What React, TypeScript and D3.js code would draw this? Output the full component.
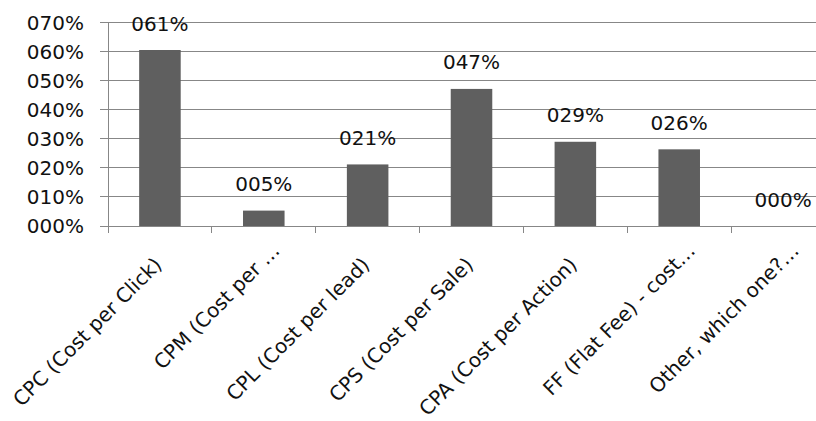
import React from "react";
import * as d3 from "d3";

// Pricing models and share of respondents using each one
const categories: string[] = [
  "CPC (Cost per Click)",
  "CPM (Cost per …",
  "CPL (Cost per lead)",
  "CPS (Cost per Sale)",
  "CPA (Cost per Action)",
  "FF (Flat Fee) - cost…",
  "Other, which one?…",
];
const shares: number[] = [0.606, 0.053, 0.212, 0.472, 0.29, 0.264, 0];
const yTicks: number[] = [0, 0.1, 0.2, 0.3, 0.4, 0.5, 0.6, 0.7];

const WIDTH = 816;
const HEIGHT = 421;
const FONT = "'DejaVu Sans', sans-serif";
const GRID = "#878787";
const BAR = "#5f5f5f";

const pct = (v: number) => d3.format("03d")(Math.round(v * 100)) + "%";

export default function App() {
  const left = 108;
  const right = 835; // last category runs past the visible edge
  const top = 22.7;
  const bottom = 226;

  const x = d3
    .scaleBand<string>()
    .domain(categories)
    .range([left, right])
    .paddingInner(0.6)
    .paddingOuter(0.3);
  const step = x.step();

  const y = d3.scaleLinear().domain([0, 0.7]).range([bottom, top]);

  const boundaries = d3.range(categories.length + 1).map((i) => left + i * step);

  return (
    <svg
      width={WIDTH}
      height={HEIGHT}
      style={{ position: "absolute", left: 0, top: 0, background: "#fff", display: "block" }}
      fontFamily={FONT}
    >
      <rect width={WIDTH} height={HEIGHT} fill="#fff" />

      {/* horizontal gridlines */}
      {yTicks.map((t) => (
        <line
          key={"g" + t}
          x1={left - 8}
          x2={right}
          y1={y(t)}
          y2={y(t)}
          stroke={GRID}
          strokeWidth={1}
          shapeRendering="crispEdges"
        />
      ))}

      {/* value axis */}
      <line x1={left} x2={left} y1={top} y2={bottom} stroke={GRID} shapeRendering="crispEdges" />
      {yTicks.map((t) => (
        <text
          key={"yl" + t}
          x={84}
          y={y(t)}
          dy="0.36em"
          textAnchor="end"
          fontSize={20}
          fill="#111"
        >
          {pct(t)}
        </text>
      ))}

      {/* category tick marks */}
      {boundaries.map((bx, i) => (
        <line
          key={"xt" + i}
          x1={bx}
          x2={bx}
          y1={bottom}
          y2={bottom + 7}
          stroke={GRID}
          shapeRendering="crispEdges"
        />
      ))}

      {/* bars */}
      {categories.map((c, i) => (
        <rect
          key={"b" + c}
          x={x(c)}
          y={y(shares[i])}
          width={x.bandwidth()}
          height={bottom - y(shares[i])}
          fill={BAR}
        />
      ))}

      {/* value labels */}
      {categories.map((c, i) => (
        <text
          key={"v" + c}
          x={(x(c) as number) + x.bandwidth() / 2}
          y={y(shares[i]) - 19.5}
          textAnchor="middle"
          fontSize={20}
          fill="#111"
        >
          {pct(shares[i])}
        </text>
      ))}

      {/* rotated category labels */}
      {categories.map((c) => {
        const cx = (x(c) as number) + x.bandwidth() / 2;
        const truncated = c.endsWith("…");
        const shift = truncated ? 20 : 0;
        const ex = cx + 3 + shift * Math.SQRT1_2;
        const ey = 266 - shift * Math.SQRT1_2;
        return (
          <text
            key={"xl" + c}
            transform={`translate(${ex},${ey}) rotate(-45)`}
            textAnchor="end"
            fontSize={20}
            fill="#111"
          >
            {c}
          </text>
        );
      })}
    </svg>
  );
}
